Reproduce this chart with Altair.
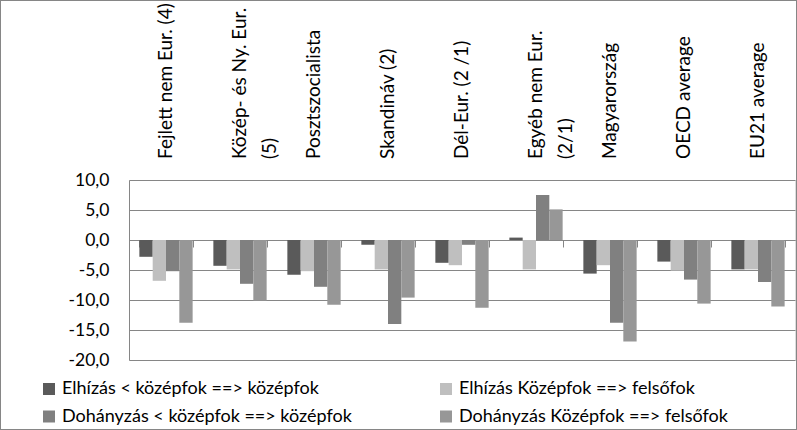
import altair as alt
import pandas as pd

categories = [
    "Fejlett nem Eur. (4)",
    "Közép- és Ny. Eur.\n(5)",
    "Posztszocialista",
    "Skandináv (2)",
    "Dél-Eur. (2 /1)",
    "Egyéb nem Eur.\n(2/1)",
    "Magyarország",
    "OECD average",
    "EU21 average",
]
series = [
    "Elhízás < középfok ==> középfok",
    "Elhízás Középfok ==> felsőfok",
    "Dohányzás < középfok ==> középfok",
    "Dohányzás Középfok ==> felsőfok",
]
elhizas_also = [-2.8, -4.3, -5.8, -0.8, -3.8, 0.4, -5.6, -3.6, -4.9]
elhizas_kozep = [-6.8, -4.9, -5.2, -4.9, -4.2, -4.9, -4.2, -5.1, -4.9]
dohanyzas_also = [-5.2, -7.3, -7.8, -14.0, -0.8, 7.5, -13.8, -6.6, -7.0]
dohanyzas_kozep = [-13.8, -10.1, -10.8, -9.6, -11.3, 5.1, -16.9, -10.6, -11.1]
y_ticks = [-20, -15, -10, -5, 0, 5, 10]
colors = ["#5a5a5a", "#bfbfbf", "#808080", "#979797"]

rows = []
for s, vals in zip(series, [elhizas_also, elhizas_kozep, dohanyzas_also, dohanyzas_kozep]):
    for c, v in zip(categories, vals):
        rows.append({"cat": c, "series": s, "value": v})
df = pd.DataFrame(rows)
cat_df = pd.DataFrame({"cat": categories})

FONT = "Lato"
GRAY = "#868686"

xscale = alt.Scale(domain=categories, paddingInner=0.28, paddingOuter=0.14)

bars = alt.Chart(df).mark_bar().encode(
    x=alt.X("cat:N", sort=categories, scale=xscale,
            axis=alt.Axis(orient="bottom", offset=-120, labels=False, title=None,
                          domainColor=GRAY, tickColor=GRAY, tickSize=7,
                          tickBand="extent", grid=False)),
    xOffset=alt.XOffset("series:N", sort=series, scale=alt.Scale(domain=series, paddingInner=0, paddingOuter=0)),
    y=alt.Y("value:Q", scale=alt.Scale(domain=[-20, 10], nice=False),
            axis=alt.Axis(values=y_ticks, title=None, ticks=False,
                          labelExpr="replace((datum.value < 0 ? '-' : '') + format(abs(datum.value), '.1f'), '.', ',')",
                          labelFont=FONT, labelFontSize=17.5, labelColor="#000000",
                          labelPadding=20, domainColor=GRAY, gridColor=GRAY)),
    color=alt.Color("series:N", sort=series,
                    scale=alt.Scale(domain=series, range=colors),
                    legend=alt.Legend(orient="none", legendX=-89, legendY=200,
                                      direction="horizontal", columns=2, title=None,
                                      symbolType="square", symbolSize=144,
                                      symbolStrokeWidth=0, labelOffset=4,
                                      labelFont=FONT, labelFontSize=18,
                                      labelColor="#000000", rowPadding=9.5,
                                      columnPadding=85, labelLimit=500)),
)

labels = alt.Chart(cat_df).mark_text(
    angle=270, align="left", baseline="middle", lineBreak="\n", lineHeight=30,
    font=FONT, fontSize=19, color="#000000", dx=21
).encode(
    x=alt.X("cat:N", sort=categories, scale=xscale),
    y=alt.value(0),
    text="cat:N",
)

frame = alt.Chart(cat_df).mark_rect(fill=None, stroke=GRAY, strokeWidth=1).encode(
    x=alt.value(-128.5), x2=alt.value(667.5), y=alt.value(-179.5), y2=alt.value(249.5)
)

chart = alt.layer(bars, labels, frame).properties(
    width=666, height=180,
    autosize=alt.AutoSizeParams(type="none"),
    padding={"left": 129, "top": 180, "right": 2, "bottom": 70},
).configure_view(stroke="transparent").configure(background="#ffffff")

chart.save("out.html", embed_options={"renderer": "svg", "actions": False})
